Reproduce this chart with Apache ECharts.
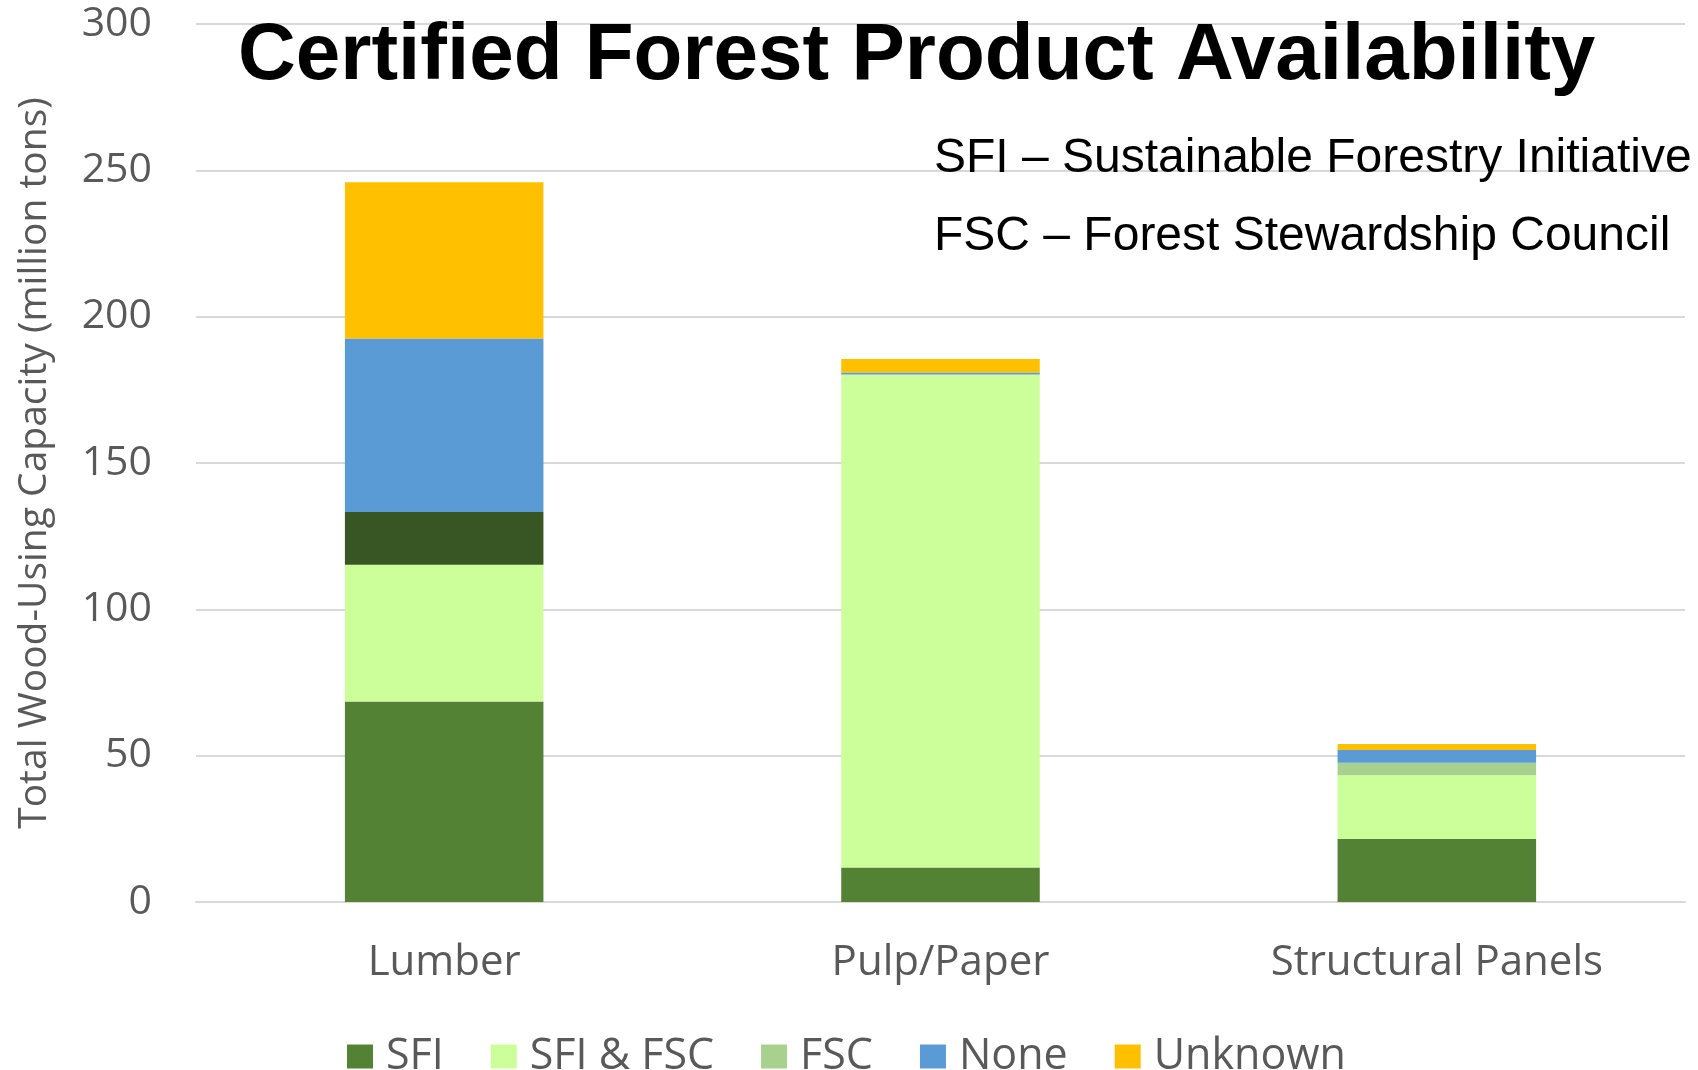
<!DOCTYPE html>
<html>
<head>
<meta charset="utf-8">
<script src="https://cdn.jsdelivr.net/npm/echarts@6/dist/echarts.min.js"></script>
<style>
  html, body { margin: 0; padding: 0; background: #fff; }
  #main { width: 1698px; height: 1070px; }
</style>
</head>
<body>
<div id="main"></div>
<script>
// categories and stacked values (million tons)
const categories = ['Lumber', 'Pulp/Paper', 'Structural Panels'];
const sfi = [68.5, 11.8, 21.5];
const sfiFsc = [46.7, 168.4, 21.8];
const fsc = [18.1, 0, 4.3];
const none = [59.2, 0.7, 4.3];
const unknown = [53.4, 4.6, 2.1];
const yTicks = [0, 50, 100, 150, 200, 250, 300];

const colors = {
  SFI: '#548235',
  'SFI & FSC': '#ccff99',
  FSC: '#a9d18e',
  None: '#5b9bd5',
  Unknown: '#ffc000'
};

const chart = echarts.init(document.getElementById('main'));

// the Lumber FSC segment is drawn darker in the original
const fscData = fsc.map((v, i) => i === 0 ? { value: v, itemStyle: { color: '#375623' } } : v);

const mkSeries = (name, data) => ({
  name: name,
  type: 'bar',
  stack: 'total',
  barWidth: '40%',
  itemStyle: { color: colors[name] },
  emphasis: { disabled: true },
  data: data
});

const option = {
  animation: false,
  grid: { left: 196, right: 13, top: 24, bottom: 168 },
  graphic: [
    {
      type: 'text', left: 238, top: 17, z: 100,
      style: { text: 'Certified Forest Product Availability', font: 'bold 80px "Liberation Sans", Arial', fill: '#000' }
    },
    {
      type: 'text', left: 934, top: 135, z: 100,
      style: { text: 'SFI – Sustainable Forestry Initiative', font: '48px "Liberation Sans", Arial', fill: '#000' }
    },
    {
      type: 'text', left: 934, top: 213, z: 100,
      style: { text: 'FSC – Forest Stewardship Council', font: '48px "Liberation Sans", Arial', fill: '#000' }
    }
  ],
  legend: {
    data: ['SFI', 'SFI & FSC', 'FSC', 'None', 'Unknown'],
    left: 342,
    top: 1030,
    itemWidth: 26,
    itemHeight: 24,
    itemGap: 47,
    icon: 'rect',
    textStyle: { fontFamily: '"Open Sans"', fontSize: 43, color: '#595959', padding: [0, 0, 0, 8] }
  },
  xAxis: {
    type: 'category',
    data: categories,
    axisLine: { lineStyle: { color: '#d9d9d9', width: 2 } },
    axisTick: { show: false },
    axisLabel: { fontFamily: '"Open Sans"', fontSize: 42, color: '#595959', margin: 40 }
  },
  yAxis: {
    type: 'value',
    min: yTicks[0],
    max: yTicks[yTicks.length - 1],
    interval: 50,
    name: 'Total Wood-Using Capacity (million tons)',
    nameLocation: 'middle',
    nameGap: 142,
    nameTextStyle: { fontFamily: '"Open Sans"', fontSize: 39, color: '#595959' },
    axisLine: { show: false },
    axisTick: { show: false },
    splitLine: { lineStyle: { color: '#d9d9d9', width: 2 } },
    axisLabel: { fontFamily: '"Open Sans"', fontSize: 41, color: '#595959', margin: 44 }
  },
  series: [
    mkSeries('SFI', sfi),
    mkSeries('SFI & FSC', sfiFsc),
    mkSeries('FSC', fscData),
    mkSeries('None', none),
    mkSeries('Unknown', unknown)
  ]
};

chart.setOption(option);
</script>
</body>
</html>
